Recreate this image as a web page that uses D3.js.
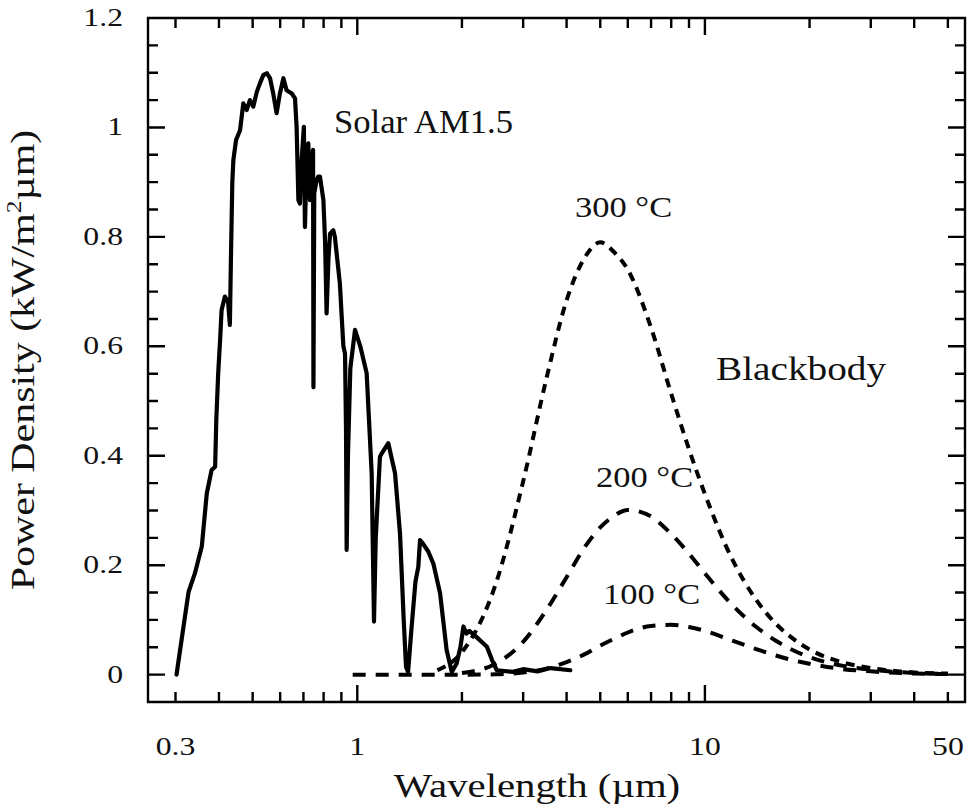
<!DOCTYPE html>
<html><head><meta charset="utf-8">
<script src="https://cdn.jsdelivr.net/npm/d3@7"></script>
<style>html,body{margin:0;padding:0;background:#fff;} svg{display:block;}</style>
</head><body>
<script>
// ---------- data ----------
const solarWavelength = [0.302,0.327,0.341,0.357,0.369,0.381,0.390,0.393,0.398,0.403,0.407,0.416,0.425,0.430,0.433,0.437,0.440,0.448,0.460,0.470,0.481,0.491,0.502,0.514,0.525,0.537,0.549,0.561,0.573,0.586,0.599,0.613,0.626,0.648,0.662,0.669,0.677,0.684,0.690,0.702,0.707,0.715,0.723,0.731,0.740,0.746,0.748,0.752,0.764,0.772,0.781,0.799,0.808,0.816,0.826,0.835,0.853,0.862,0.891,0.902,0.912,0.922,0.928,0.932,0.940,0.955,0.985,1.02,1.064,1.10,1.117,1.13,1.162,1.175,1.228,1.284,1.327,1.36,1.381,1.40,1.43,1.47,1.498,1.515,1.543,1.60,1.655,1.73,1.807,1.87,1.93,1.98,2.02,2.06,2.10,2.20,2.36,2.44,2.52,2.8,3.0,3.3,3.6,4.1];
const solarPower = [0.00,0.151,0.185,0.234,0.331,0.374,0.380,0.465,0.551,0.611,0.666,0.691,0.681,0.639,0.760,0.900,0.940,0.977,0.995,1.044,1.032,1.050,1.038,1.065,1.081,1.096,1.099,1.090,1.062,1.026,1.062,1.090,1.068,1.062,1.053,1.001,0.867,0.861,0.930,1.001,0.818,0.940,0.971,0.867,0.940,0.959,0.525,0.880,0.904,0.910,0.910,0.867,0.790,0.660,0.760,0.806,0.812,0.800,0.715,0.654,0.600,0.587,0.450,0.228,0.400,0.560,0.630,0.600,0.551,0.368,0.097,0.250,0.398,0.404,0.423,0.368,0.258,0.100,0.014,0.005,0.080,0.170,0.197,0.246,0.240,0.225,0.203,0.149,0.045,0.005,0.020,0.050,0.088,0.075,0.080,0.069,0.051,0.027,0.008,0.005,0.010,0.006,0.012,0.008];

const bb300Wavelength = [1.7,2,2.5,3,3.5,4,4.5,5,5.5,6,7,8,9,10,12,14,16,18,20,25,30,40,50];
const bb300 = [0.008,0.041,0.165,0.353,0.541,0.684,0.761,0.790,0.771,0.740,0.634,0.513,0.412,0.330,0.210,0.138,0.093,0.065,0.046,0.022,0.012,0.004,0.002];
const bb200Wavelength = [2,2.5,3,3.5,4,4.5,5,5.5,6,7,8,9,10,12,14,16,18,20,25,30,40,50];
const bb200 = [0.003,0.020,0.060,0.118,0.178,0.232,0.269,0.291,0.301,0.289,0.257,0.221,0.185,0.127,0.088,0.062,0.044,0.032,0.016,0.009,0.003,0.001];
const bb100Wavelength = [0.97,1.5,2,2.5,3,3.5,4,4.5,5,5.5,6,7,8,9,10,12,14,16,18,20,25,30,40,50];
const bb100 = [0,0,0,0.0005,0.004,0.011,0.023,0.037,0.053,0.066,0.077,0.089,0.091,0.087,0.080,0.062,0.047,0.035,0.026,0.020,0.010,0.006,0.002,0.001];

const xTickLabels = [0.3, 1, 10, 50];
const xMajorTicks = [1, 10];
const xMinorTicks = [0.3,0.4,0.5,0.6,0.7,0.8,0.9,2,3,4,5,6,7,8,9,20,30,40,50];
const yMajorTicks = [0,0.2,0.4,0.6,0.8,1,1.2];
const yMinorTicks = [0.05,0.1,0.15,0.25,0.3,0.35,0.45,0.5,0.55,0.65,0.7,0.75,0.85,0.9,0.95,1.05,1.1,1.15];

// ---------- layout ----------
const W = 972, H = 809;
const L = 148, R = 965, T = 18, B = 702;
const FONT = "'Liberation Serif','Times New Roman',serif";

const svg = d3.select("body").append("svg").attr("width", W).attr("height", H)
  .attr("viewBox", `0 0 ${W} ${H}`);
svg.append("rect").attr("width", W).attr("height", H).attr("fill", "#fff");
const xs = d3.scaleLog().domain([0.25, 56]).range([L, R]);
const ys = d3.scaleLinear().domain([-0.05, 1.2]).range([B, T]);

// frame + inward ticks on all four sides in one path
const fp = d3.path();
fp.moveTo(L, T); fp.lineTo(R, T); fp.lineTo(R, B); fp.lineTo(L, B); fp.closePath();
[[xMajorTicks, 17], [xMinorTicks, 10]].forEach(([vals, len]) => vals.forEach(v => {
  const p = xs(v);
  fp.moveTo(p, B); fp.lineTo(p, B - len);
  fp.moveTo(p, T); fp.lineTo(p, T + len);
}));
[[yMajorTicks, 17], [yMinorTicks, 10]].forEach(([vals, len]) => vals.forEach(v => {
  const p = ys(v);
  fp.moveTo(L, p); fp.lineTo(L + len, p);
  fp.moveTo(R, p); fp.lineTo(R - len, p);
}));
svg.append("path").attr("d", fp.toString()).attr("fill", "none")
  .attr("stroke", "#000").attr("stroke-width", 2.4);

// text helper with horizontal stretch
function label(px, py, str, size, sx, anchor, rot) {
  const g = svg.append("g").attr("transform", `translate(${px},${py})` + (rot ? ` rotate(${rot})` : "") + ` scale(${sx},1)`);
  return g.append("text").attr("font-family", FONT).attr("font-size", size)
    .attr("text-anchor", anchor || "start").attr("fill", "#111").text(str);
}

// tick labels
xTickLabels.forEach(v => label(xs(v), 755, String(v), 26, 1.22, "middle"));
yMajorTicks.forEach(v => label(123, ys(v) + 8, String(v), 26, 1.22, "end"));

// axis titles
label(537, 797, "Wavelength (\u00b5m)", 34, 1.2, "middle");
{
  const t = label(34, 360, "", 33, 1.27, "middle", -90);
  t.append("tspan").text("Power Density (kW/m");
  t.append("tspan").attr("font-size", 20).attr("dy", -13).text("2");
  t.append("tspan").attr("dy", 13).text("\u00b5m)");
}

// lines
const line = d3.line().x(d => xs(d[0])).y(d => ys(d[1]));
const smooth = d3.line().x(d => xs(d[0])).y(d => ys(d[1])).curve(d3.curveMonotoneX);

[[bb100Wavelength, bb100, "13,10"], [bb200Wavelength, bb200, "13,10"], [bb300Wavelength, bb300, "9,7"]].forEach(([wl, vals, dash]) => {
  svg.append("path").datum(d3.zip(wl, vals))
    .attr("d", smooth).attr("fill", "none").attr("stroke", "#000")
    .attr("stroke-width", 4).attr("stroke-dasharray", dash);
});

svg.append("path").datum(d3.zip(solarWavelength, solarPower))
  .attr("d", line).attr("fill", "none").attr("stroke", "#000")
  .attr("stroke-width", 4.2).attr("stroke-linejoin", "round").attr("stroke-linecap", "round");

// annotations
label(334, 133, "Solar AM1.5", 33, 1.05, "start");
label(575, 217, "300 \u00b0C", 29, 1.19, "start");
label(716, 380, "Blackbody", 33, 1.19, "start");
label(596, 487, "200 \u00b0C", 29, 1.19, "start");
label(603, 604, "100 \u00b0C", 29, 1.19, "start");
</script>
</body></html>
